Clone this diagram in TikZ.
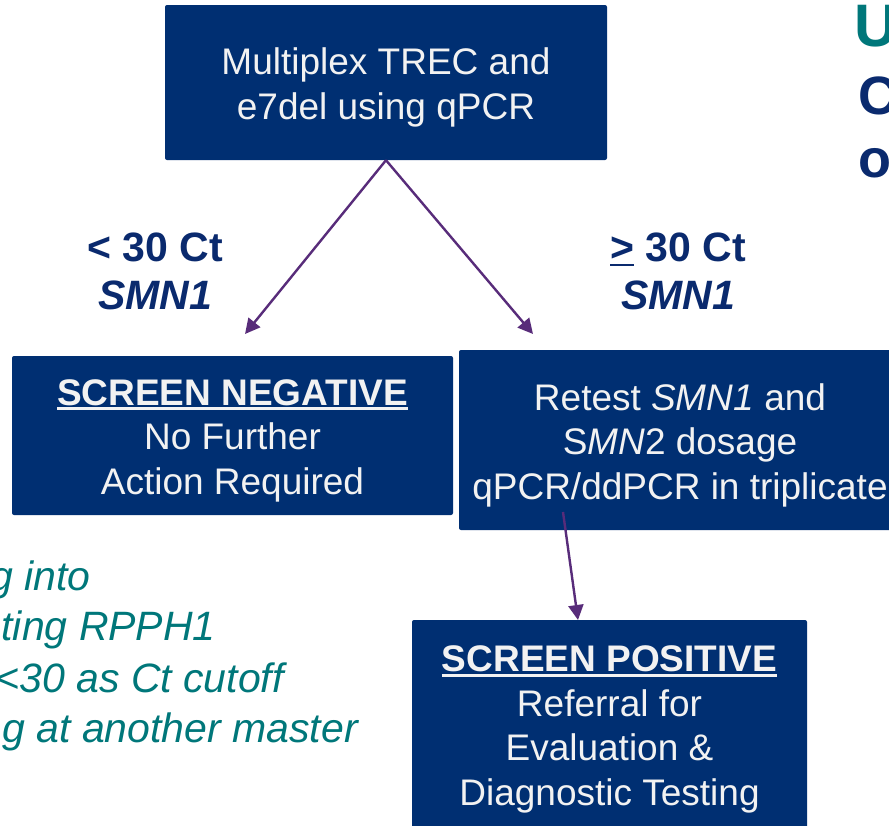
\documentclass[tikz,border=0pt]{standalone}
\usepackage{fontspec}
\setmainfont{Liberation Sans}
\usetikzlibrary{arrows.meta}
\definecolor{navybox}{RGB}{0,47,114}
\definecolor{boxtext}{RGB}{242,242,242}
\definecolor{arrowpurple}{RGB}{88,44,122}
\definecolor{tealtxt}{RGB}{0,119,122}
\definecolor{labelnavy}{RGB}{10,42,110}
\newcommand\myul[1]{\setbox0\hbox{#1}\rlap{\rule[-5pt]{\wd0}{2.6pt}}\box0{}}
\tikzset{
  flowbox/.style={fill=navybox, rounded corners=2pt, inner sep=0pt},
  boxlabel/.style={text=boxtext, align=center, inner sep=0pt,
    font=\fontsize{37}{44.5}\selectfont},
  branchlabel/.style={text=labelnavy, align=center, inner sep=0pt,
    font=\fontsize{41}{48}\selectfont\bfseries},
  flowarrow/.style={draw=arrowpurple, line width=2.4pt, -{Triangle[length=15pt,width=15pt]}},
  noteline/.style={text=tealtxt, anchor=base east, inner sep=0pt, font=\fontsize{41}{50}\selectfont\itshape},
}
\begin{document}
\begin{tikzpicture}[x=1pt,y=-1pt]
\useasboundingbox (0,0) rectangle (889,825);
\begin{scope}
\clip (0,0) rectangle (889,825);
\fill[white] (0,0) rectangle (889,825);

\node[flowbox, minimum width=442pt, minimum height=155pt] (top) at (386,82.5) {};
\node[boxlabel] (toptxt) at ([yshift=-5pt]top.center)
  {Multiplex TREC and\\e7del using qPCR};
\node[flowbox, minimum width=441pt, minimum height=159pt] (neg) at (232.5,435.5) {};
\node[boxlabel] (negtxt) at ([yshift=-5pt]neg.center)
  {\bfseries\myul{SCREEN NEGATIVE}\\No Further\\Action Required};
\node[flowbox, minimum width=442pt, minimum height=180pt] (retest) at (680,440) {};
\node[boxlabel] (rettxt) at ([yshift=-5pt]retest.center)
  {Retest \textit{SMN1} and\\S\textit{MN}2 dosage\\qPCR/ddPCR in triplicate};
\node[flowbox, minimum width=395pt, minimum height=211pt] (pos) at (609.5,725.5) {};
\node[boxlabel] (postxt) at ([yshift=-4pt]pos.center)
  {\bfseries\myul{SCREEN POSITIVE}\\Referral for\\Evaluation \&\\Diagnostic Testing};

\node[branchlabel] (lablo) at (155,271) {< 30 Ct\\\textit{SMN1}};
\node[branchlabel] (labhi) at (678,271) {\myul{>} 30 Ct\\\textit{SMN1}};

\coordinate (negin) at (245,334);
\coordinate (retin) at (533,334);
\coordinate (retout) at (563,512);
\coordinate (posin) at (578,620);
\draw[flowarrow] (top.south) -- (negin);
\draw[flowarrow] (top.south) -- (retin);
\draw[flowarrow] (retout) -- (posin);

\node[noteline] (n1) at (91,590) {g into};
\node[noteline] (n2) at (216,640) {ting RPPH1};
\node[noteline] (n3) at (284,692) {<30 as Ct cutoff};
\node[noteline] (n4) at (358,742) {g at another master};

\node[anchor=base west, inner sep=0pt, text=tealtxt, font=\fontsize{60}{60}\selectfont\bfseries] (hU) at (854,46) {U};
\node[anchor=base west, inner sep=0pt, text=labelnavy, font=\fontsize{54}{60}\selectfont\bfseries] (hC) at (858,114) {C};
\node[anchor=base west, inner sep=0pt, text=labelnavy, font=\fontsize{54}{60}\selectfont\bfseries] (ho) at (858,177) {o};
\end{scope}
\end{tikzpicture}
\end{document}
